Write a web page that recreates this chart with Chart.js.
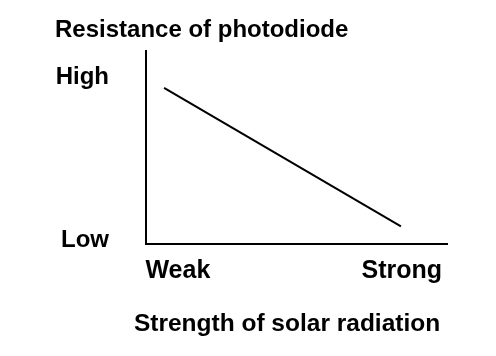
<!DOCTYPE html>
<html>
<head>
<meta charset="utf-8">
<script src="https://cdn.jsdelivr.net/npm/chart.js@4"></script>
<style>
  html, body { margin: 0; padding: 0; background: #fff; }
  #c { display: block; }
</style>
</head>
<body>
<canvas id="c" width="496" height="356"></canvas>
<script>
// ---- data ----
const xTickLabels = ['Weak', 'Strong'];
const xTickValues = [0.106, 0.85];
const yTickLabels = ['Low', 'High'];
const yTickValues = [0.018, 0.863];
const radiationStrength = [0.06, 0.847];
const photodiodeResistance = [0.81, 0.09];
const yAxisTitle = 'Resistance of photodiode';
const xAxisTitle = 'Strength of solar radiation';

const FAMILY = "'Liberation Sans', Arial, Helvetica, sans-serif";
const FONT = { family: FAMILY, size: 24, weight: 'bold' };
const XTICK_FONT = { family: FAMILY, size: 25, weight: 'bold' };
const XTITLE_FONT = { family: FAMILY, size: 24.5, weight: 'bold' };

new Chart(document.getElementById('c'), {
  type: 'line',
  data: {
    datasets: [{
      data: radiationStrength.map((x, i) => ({ x: x, y: photodiodeResistance[i] })),
      borderColor: '#000',
      borderWidth: 2,
      pointRadius: 0,
      fill: false,
      tension: 0
    }]
  },
  options: {
    responsive: false,
    animation: false,
    devicePixelRatio: 1,
    layout: { padding: { left: 55, right: 49, top: 13, bottom: 0 } },
    plugins: {
      legend: { display: false },
      tooltip: { enabled: false },
      title: {
        display: true,
        text: yAxisTitle,
        align: 'start',
        color: '#000',
        font: FONT,
        padding: { top: 0, bottom: 7 }
      },
      subtitle: {
        display: true,
        position: 'bottom',
        align: 'end',
        text: xAxisTitle + ' ',
        color: '#000',
        font: XTITLE_FONT,
        padding: { top: 10, bottom: 17 }
      }
    },
    scales: {
      x: {
        type: 'linear',
        min: 0, max: 1,
        grid: { display: false, drawTicks: false },
        border: { display: true, color: '#000', width: 2 },
        afterBuildTicks: s => { s.ticks = xTickValues.map(v => ({ value: v })); },
        ticks: {
          autoSkip: false, maxRotation: 0, color: '#000', font: XTICK_FONT, padding: 13,
          callback: v => xTickLabels[xTickValues.indexOf(v)]
        }
      },
      y: {
        type: 'linear',
        min: 0, max: 1,
        grid: { display: false, drawTicks: false },
        border: { display: true, color: '#000', width: 2 },
        afterBuildTicks: s => { s.ticks = yTickValues.map(v => ({ value: v })); },
        afterFit: s => { s.width = 91; },
        ticks: {
          autoSkip: false, color: '#000', font: FONT, padding: 37,
          callback: v => yTickLabels[yTickValues.indexOf(v)]
        }
      }
    }
  }
});
</script>
</body>
</html>
